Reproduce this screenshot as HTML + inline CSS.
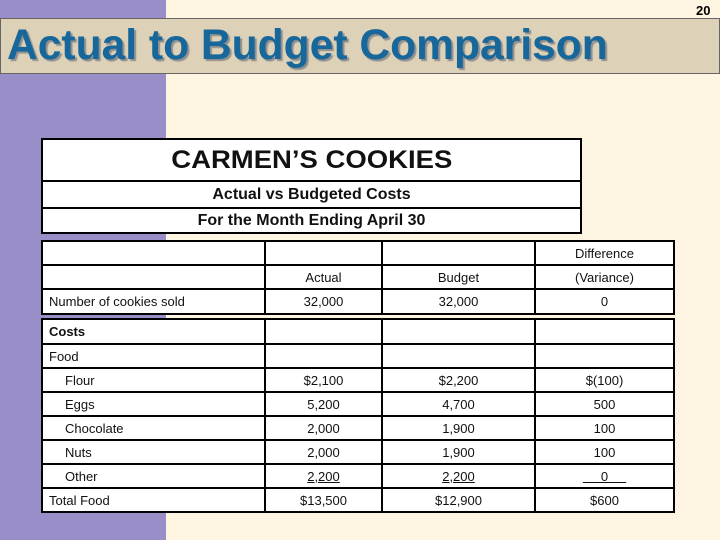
<!DOCTYPE html>
<html><head><meta charset="utf-8"><style>
body{margin:0;width:720px;height:540px;position:relative;overflow:hidden;background:#fdf4e1;font-family:"Liberation Sans",sans-serif}
.abs{position:absolute}
.c{position:absolute;border:2px solid #000;box-sizing:border-box;background:#fff;font-size:13px;display:flex;align-items:center;justify-content:center;color:#111}
.l{justify-content:flex-start;padding-left:6px}
.i{padding-left:22px}
</style></head><body>
<div class="abs" style="left:0;top:0;width:166px;height:540px;background:#998ec7"></div>
<div class="abs" style="left:0;top:18px;width:720px;height:56px;background:#ddd1b8;border:1px solid #666;box-sizing:border-box"></div>
<div class="abs" style="left:696px;top:3px;font-size:13px;font-weight:bold">20</div>
<div class="abs" style="left:7px;top:21px;font-size:43px;font-weight:bold;color:#17679a;text-shadow:2px 2px 1px #8f8f8f;white-space:nowrap;transform:scaleX(0.99);transform-origin:left top">Actual to Budget Comparison</div>

<div class="c" style="left:41px;top:138px;width:541px;height:44px;font-size:25px;font-weight:bold"><span style="display:inline-block;transform:scaleX(1.1)">CARMEN’S COOKIES</span></div>
<div class="c" style="left:41px;top:180px;width:541px;height:29px;font-size:16px;font-weight:bold">Actual vs Budgeted Costs</div>
<div class="c" style="left:41px;top:207px;width:541px;height:27px;font-size:16px;font-weight:bold">For the Month Ending April 30</div>

<div id="t"></div>
<script>
const xs=[41,264,381,534,673];
const rows1=[["","","","Difference"],["","Actual","Budget","(Variance)"],["Number of cookies sold","32,000","32,000","0"]];
const ys1=[240,264,288,313];
const rows2=[["<b>Costs</b>","","",""],["Food","","",""],["Flour","$2,100","$2,200","$(100)"],["Eggs","5,200","4,700","500"],["Chocolate","2,000","1,900","100"],["Nuts","2,000","1,900","100"],["Other","<u>2,200</u>","<u>2,200</u>","<u>&nbsp;&nbsp;&nbsp;&nbsp;&nbsp;0&nbsp;&nbsp;&nbsp;&nbsp;&nbsp;</u>"],["Total Food","$13,500","$12,900","$600"]];
const ys2=[318,343,367,391,415,439,463,487,511];
const t=document.getElementById('t');
function draw(rows,ys,indent){
rows.forEach((r,ri)=>{r.forEach((v,ci)=>{
const d=document.createElement('div');


d.className='c'+(ci==0?' l'+(indent(ri)?' i':''):'');
d.style.left=xs[ci]+'px';d.style.top=ys[ri]+'px';
d.style.width=(xs[ci+1]-xs[ci]+2)+'px';d.style.height=(ys[ri+1]-ys[ri]+2)+'px';
d.innerHTML=v;t.appendChild(d);});});}
draw(rows1,ys1,()=>false);
draw(rows2,ys2,r=>r>=2&&r<=6);
</script>
</body></html>
